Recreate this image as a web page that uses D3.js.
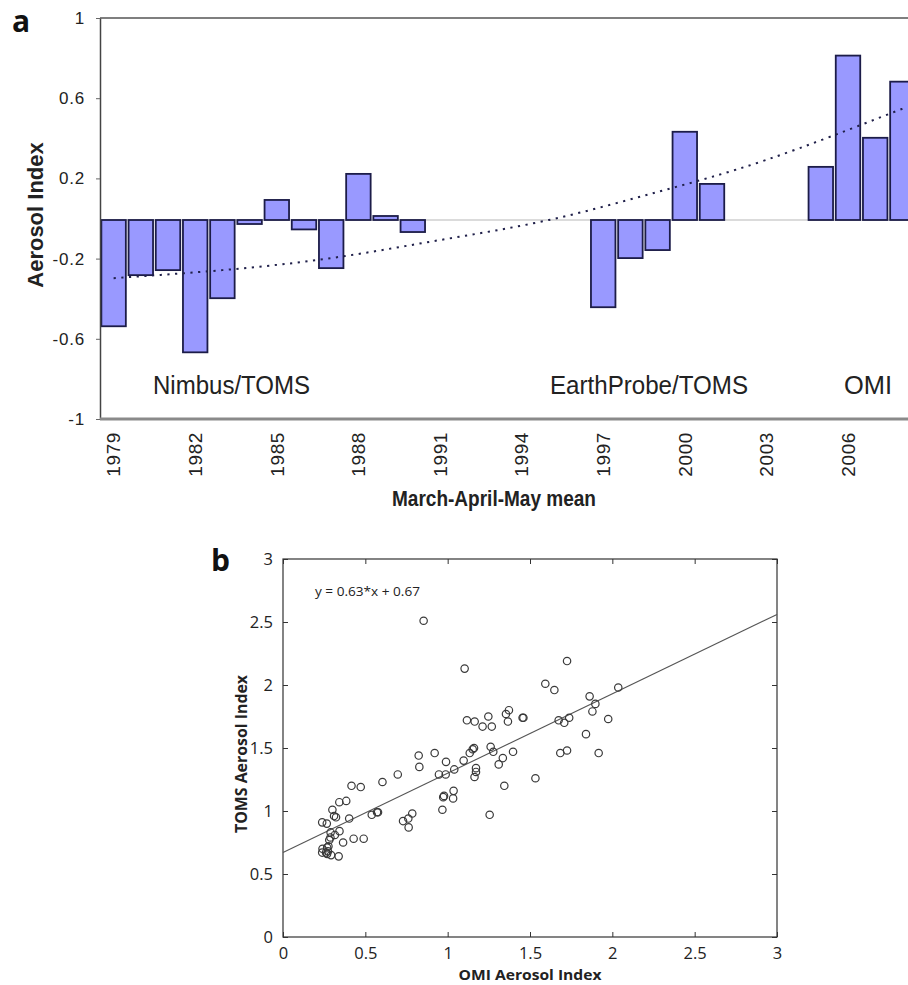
<!DOCTYPE html>
<html>
<head>
<meta charset="utf-8">
<script src="https://cdn.jsdelivr.net/npm/d3@7"></script>
<style>
  body { margin: 0; background: #fff; }
  svg { display: block; }
</style>
</head>
<body>
<script>
// ---- panel a: March-April-May mean aerosol index anomaly ----
var barYears = [1979, 1980, 1981, 1982, 1983, 1984, 1985, 1986, 1987, 1988, 1989, 1990,
  1997, 1998, 1999, 2000, 2001,
  2005, 2006, 2007, 2008]
var barValues = [-0.53, -0.275, -0.25, -0.66, -0.39, -0.02, 0.10, -0.047, -0.24, 0.23, 0.02, -0.06,
  -0.435, -0.19, -0.15, 0.44, 0.18,
  0.265, 0.82, 0.41, 0.69]
var trendYears = [1979, 1983, 1987, 1991, 1995, 1999, 2003, 2008]
var trendValues = [-0.29, -0.25, -0.19, -0.10, 0.00, 0.14, 0.30, 0.555]
var tickYears = [1979, 1982, 1985, 1988, 1991, 1994, 1997, 2000, 2003, 2006]
var yTicksA = [1, 0.6, 0.2, -0.2, -0.6, -1]
var sensors = ['Nimbus/TOMS', 'EarthProbe/TOMS', 'OMI']

// ---- panel b: OMI vs TOMS aerosol index ----
var omiAI = [0.854, 1.103, 1.725, 1.593, 1.648, 1.862, 1.897, 1.879, 1.840, 1.917, 2.036, 1.975,
  1.354, 1.372, 1.366, 1.455, 1.460, 1.247, 1.268, 1.212, 1.164, 1.117, 1.674, 1.708, 1.738,
  1.684, 1.725, 1.261, 1.277, 1.397, 1.335, 1.310, 1.344, 1.533, 1.255, 1.134, 1.152, 1.160,
  1.097, 1.172, 1.172, 1.163, 1.040, 0.990, 0.988, 0.947, 0.921, 0.824, 0.828, 0.697, 0.604,
  0.472, 0.416, 0.973, 0.978, 1.036, 1.033, 0.968, 0.785, 0.761, 0.729, 0.763, 0.571, 0.577,
  0.539, 0.490, 0.429, 0.384, 0.342, 0.402, 0.365, 0.338, 0.343, 0.315, 0.300, 0.322, 0.310,
  0.238, 0.266, 0.289, 0.288, 0.281, 0.276, 0.268, 0.240, 0.238, 0.261, 0.273, 0.292, 0.268]
var tomsAI = [2.51, 2.13, 2.19, 2.01, 1.96, 1.91, 1.85, 1.79, 1.61, 1.46, 1.98, 1.73,
  1.77, 1.80, 1.71, 1.74, 1.74, 1.75, 1.67, 1.67, 1.71, 1.72, 1.72, 1.70, 1.74,
  1.46, 1.48, 1.51, 1.47, 1.47, 1.42, 1.37, 1.20, 1.26, 0.97, 1.46, 1.49, 1.50,
  1.40, 1.34, 1.31, 1.27, 1.33, 1.39, 1.29, 1.29, 1.46, 1.44, 1.35, 1.29, 1.23,
  1.19, 1.20, 1.11, 1.12, 1.16, 1.10, 1.01, 0.98, 0.94, 0.92, 0.87, 0.99, 0.99,
  0.97, 0.78, 0.78, 1.08, 1.07, 0.94, 0.75, 0.64, 0.84, 0.81, 1.01, 0.95, 0.96,
  0.91, 0.90, 0.83, 0.79, 0.77, 0.72, 0.71, 0.70, 0.67, 0.67, 0.68, 0.65, 0.66]
var axisTicksB = [0, 0.5, 1, 1.5, 2, 2.5, 3]
var fitSlope = 0.63
var fitIntercept = 0.67

var svg = d3.select('body').append('svg')
  .attr('width', 908)
  .attr('height', 985)

// ================= panel a =================
var xa = d3.scaleBand()
  .domain(d3.range(1979, 2009))
  .range([100, 916])
  .paddingInner(0.1)
  .paddingOuter(0.05)
var ya = d3.scaleLinear().domain([-1, 1]).range([419, 18])
var cx = d => xa(d) + xa.bandwidth() / 2

var ga = svg.append('g')

// frame top + zero line
ga.append('line').attr('x1', 100).attr('x2', 908).attr('y1', ya(1)).attr('y2', ya(1))
  .attr('stroke', '#555').attr('stroke-width', 1.5)
ga.append('line').attr('x1', 100).attr('x2', 908).attr('y1', ya(0) + 1.5).attr('y2', ya(0) + 1.5)
  .attr('stroke', '#cfcfcf').attr('stroke-width', 1.5)

// bars
ga.selectAll('rect.bar')
  .data(barYears)
  .enter().append('rect')
  .attr('class', 'bar')
  .attr('x', d => xa(d))
  .attr('width', xa.bandwidth())
  .attr('y', (d, i) => ya(Math.max(0, barValues[i])) + 1.5)
  .attr('height', (d, i) => Math.abs(ya(barValues[i]) - ya(0)))
  .attr('fill', '#9999ff')
  .attr('stroke', '#1c1c48')
  .attr('stroke-width', 1.8)

// polynomial trend (dotted)
var trendLine = d3.line()
  .x(d => cx(d))
  .y((d, i) => ya(trendValues[i]) + 1.5)
  .curve(d3.curveNatural)
ga.append('path')
  .datum(trendYears)
  .attr('d', trendLine)
  .attr('fill', 'none')
  .attr('stroke', '#20204a')
  .attr('stroke-width', 2)
  .attr('stroke-dasharray', '2.2 5.5')

// y axis
var yAxisA = ga.append('g')
  .attr('transform', 'translate(100,0)')
  .call(d3.axisLeft(ya).tickValues(yTicksA).tickSizeInner(4).tickSizeOuter(0).tickFormat(d => String(d)))
yAxisA.select('.domain').attr('stroke', '#444').attr('stroke-width', 1.5)
yAxisA.selectAll('.tick line').attr('stroke', '#666')
yAxisA.selectAll('text')
  .attr('x', -15)
  .attr('font-family', 'Liberation Sans, Arial, sans-serif')
  .attr('font-size', 17)
  .attr('letter-spacing', 0.8)
  .attr('fill', '#222')

// x axis
ga.append('line').attr('x1', 100).attr('x2', 908).attr('y1', 419).attr('y2', 419)
  .attr('stroke', '#8a8a8a').attr('stroke-width', 3)
var xAxisA = ga.append('g')
  .attr('transform', 'translate(0,419)')
  .call(d3.axisBottom(xa).tickValues(tickYears).tickSize(0))
xAxisA.select('.domain').remove()
xAxisA.selectAll('text')
  .attr('transform', 'rotate(-90)')
  .attr('x', -13)
  .attr('y', 0)
  .attr('dy', '0.36em')
  .attr('text-anchor', 'end')
  .attr('font-family', 'Liberation Sans, Arial, sans-serif')
  .attr('font-size', 19)
  .attr('letter-spacing', 0.6)
  .attr('fill', '#222')

// sensor labels
var sensorPos = [[153, 157], [550, 198], [844, 48]]
ga.selectAll('text.sensor')
  .data(sensors)
  .enter().append('text')
  .attr('class', 'sensor')
  .attr('x', (d, i) => sensorPos[i][0])
  .attr('y', 394)
  .attr('textLength', (d, i) => sensorPos[i][1])
  .attr('lengthAdjust', 'spacingAndGlyphs')
  .attr('font-family', 'Liberation Sans Narrow, Arial Narrow, Liberation Sans, sans-serif')
  .attr('font-size', 25)
  .attr('fill', '#222')
  .text(d => d)

// titles
svg.append('text').attr('x', 12).attr('y', 32)
  .attr('font-family', 'Open Sans, sans-serif').attr('font-weight', 'bold')
  .attr('font-size', 30).attr('fill', '#111').text('a')
svg.append('text')
  .attr('transform', 'translate(43,215) rotate(-90)')
  .attr('text-anchor', 'middle')
  .attr('font-family', 'Liberation Sans, Arial, sans-serif').attr('font-weight', 'bold')
  .attr('font-size', 22).attr('fill', '#222')
  .text('Aerosol Index')
svg.append('text')
  .attr('x', 392).attr('y', 506)
  .attr('textLength', 204).attr('lengthAdjust', 'spacingAndGlyphs')
  .attr('font-family', 'Liberation Sans Narrow, Arial Narrow, Liberation Sans, sans-serif')
  .attr('font-weight', 'bold')
  .attr('font-size', 22).attr('fill', '#222')
  .text('March-April-May mean')

// ================= panel b =================
var xb = d3.scaleLinear().domain([0, 3]).range([283, 777])
var yb = d3.scaleLinear().domain([0, 3]).range([937, 559])
var gb = svg.append('g')

gb.append('rect')
  .attr('x', xb(0)).attr('y', yb(3))
  .attr('width', xb(3) - xb(0)).attr('height', yb(0) - yb(3))
  .attr('fill', 'none').attr('stroke', '#333').attr('stroke-width', 1.2)

var tickFmt = d => String(d)
gb.append('g').attr('transform', `translate(0,${yb(0)})`)
  .call(d3.axisBottom(xb).tickValues(axisTicksB).tickSizeInner(-5).tickSizeOuter(0).tickPadding(10).tickFormat(tickFmt))
gb.append('g').attr('transform', `translate(${xb(0)},0)`)
  .call(d3.axisLeft(yb).tickValues(axisTicksB).tickSizeInner(-5).tickSizeOuter(0).tickPadding(10).tickFormat(tickFmt))
gb.append('g').attr('transform', `translate(0,${yb(3)})`)
  .call(d3.axisTop(xb).tickValues(axisTicksB).tickSizeInner(-5).tickSizeOuter(0).tickFormat(''))
gb.append('g').attr('transform', `translate(${xb(3)},0)`)
  .call(d3.axisRight(yb).tickValues(axisTicksB).tickSizeInner(-5).tickSizeOuter(0).tickFormat(''))
gb.selectAll('.domain').remove()
gb.selectAll('.tick line').attr('stroke', '#333')
gb.selectAll('.tick text')
  .attr('font-family', 'Open Sans, sans-serif')
  .attr('font-size', 16.5)
  .attr('fill', '#222')

// regression line
gb.append('line')
  .attr('x1', xb(0)).attr('y1', yb(fitIntercept))
  .attr('x2', xb(3)).attr('y2', yb(fitIntercept + fitSlope * 3))
  .attr('stroke', '#555').attr('stroke-width', 1.1)

// scatter points
gb.selectAll('circle')
  .data(omiAI)
  .enter().append('circle')
  .attr('cx', d => xb(d))
  .attr('cy', (d, i) => yb(tomsAI[i]))
  .attr('r', 3.7)
  .attr('fill', 'none')
  .attr('stroke', '#3a3a3a')
  .attr('stroke-width', 1.2)

gb.append('text')
  .attr('x', 315).attr('y', 596)
  .attr('textLength', 105).attr('lengthAdjust', 'spacingAndGlyphs')
  .attr('font-family', 'Open Sans, sans-serif').attr('font-size', 12.5).attr('fill', '#222')
  .text('y = 0.63*x + 0.67')

svg.append('text').attr('x', 211).attr('y', 571)
  .attr('font-family', 'Open Sans, sans-serif').attr('font-weight', 'bold')
  .attr('font-size', 30).attr('fill', '#111').text('b')
svg.append('text')
  .attr('transform', 'translate(247,754) rotate(-90)')
  .attr('text-anchor', 'middle')
  .attr('textLength', 158).attr('lengthAdjust', 'spacingAndGlyphs')
  .attr('font-family', 'Open Sans, sans-serif').attr('font-weight', 'bold')
  .attr('font-size', 16).attr('fill', '#222')
  .text('TOMS Aerosol Index')
svg.append('text')
  .attr('x', 530).attr('y', 980)
  .attr('text-anchor', 'middle')
  .attr('textLength', 143).attr('lengthAdjust', 'spacingAndGlyphs')
  .attr('font-family', 'Open Sans, sans-serif').attr('font-weight', 'bold')
  .attr('font-size', 15).attr('fill', '#222')
  .text('OMI Aerosol Index')
</script>
</body>
</html>
